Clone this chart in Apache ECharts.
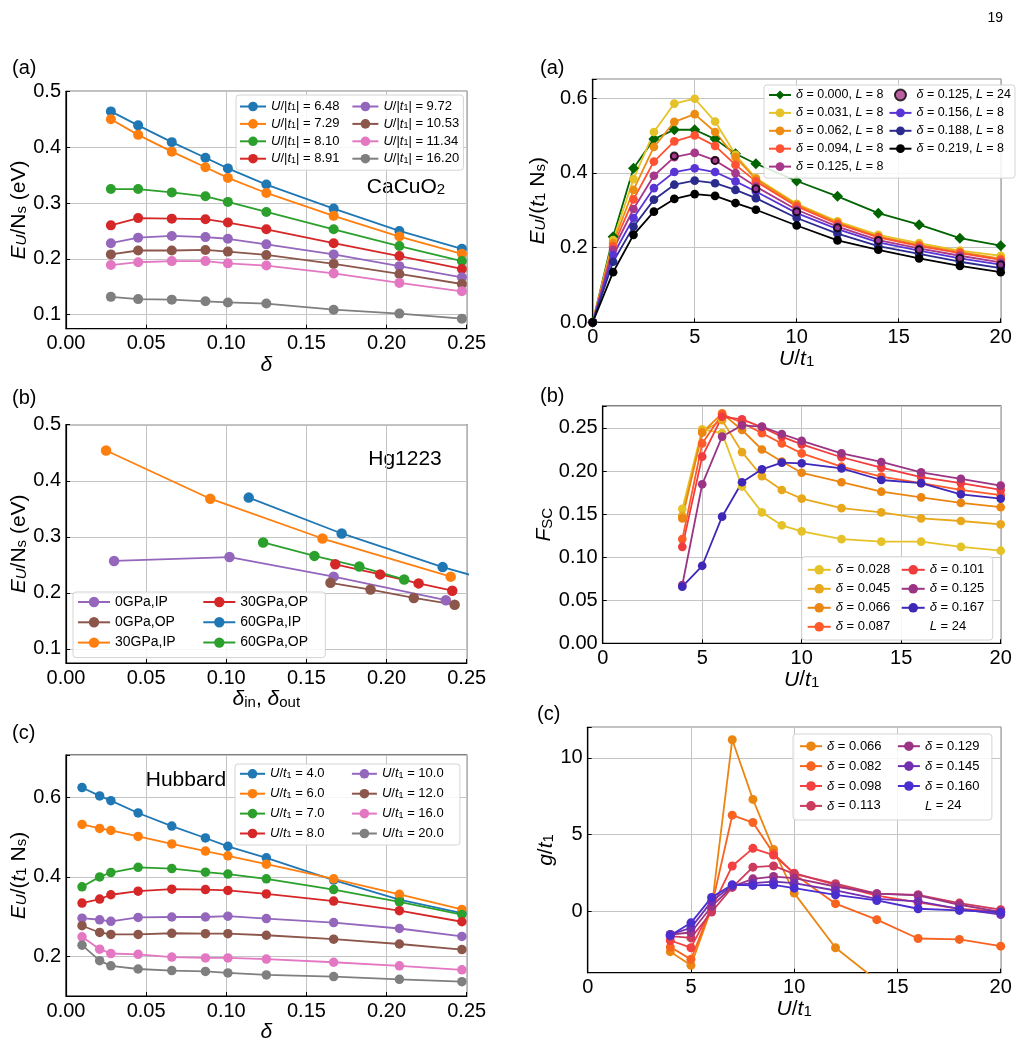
<!DOCTYPE html>
<html>
<head>
<meta charset="utf-8">
<script src="https://cdn.jsdelivr.net/npm/echarts@6/dist/echarts.min.js"></script>
<style>
html, body { margin: 0; background: #fff; }
#chart { width: 1024px; height: 1047px; }
</style>
</head>
<body>
<div id="chart"></div>
<script>
// 左(a) CaCuO2
var deltaA = [0.028, 0.045, 0.066, 0.087, 0.101, 0.125, 0.167, 0.208, 0.247];
var eU648 = [0.464, 0.439, 0.409, 0.381, 0.362, 0.333, 0.290, 0.250, 0.218];
var eU729 = [0.450, 0.422, 0.392, 0.364, 0.345, 0.318, 0.277, 0.240, 0.209];
var eU810 = [0.325, 0.325, 0.319, 0.312, 0.302, 0.284, 0.253, 0.223, 0.196];
var eU891 = [0.260, 0.273, 0.272, 0.271, 0.265, 0.253, 0.228, 0.205, 0.182];
var eU972 = [0.228, 0.238, 0.241, 0.239, 0.236, 0.226, 0.208, 0.187, 0.167];
var eU1053 = [0.208, 0.215, 0.215, 0.216, 0.213, 0.207, 0.191, 0.173, 0.155];
var eU1134 = [0.189, 0.194, 0.196, 0.196, 0.192, 0.188, 0.174, 0.157, 0.142];
var eU1620 = [0.132, 0.128, 0.127, 0.124, 0.122, 0.120, 0.109, 0.102, 0.093];
var namesA = ['U/|t1| = 6.48', 'U/|t1| = 7.29', 'U/|t1| = 8.10', 'U/|t1| = 8.91',
              'U/|t1| = 9.72', 'U/|t1| = 10.53', 'U/|t1| = 11.34', 'U/|t1| = 16.20'];

// 左(b) Hg1223  [delta, E]
var ip0 = [[0.030, 0.257], [0.102, 0.264], [0.167, 0.229], [0.237, 0.187]];
var op0 = [[0.165, 0.218], [0.190, 0.206], [0.217, 0.191], [0.2425, 0.179]];
var ip30 = [[0.025, 0.454], [0.090, 0.368], [0.160, 0.297], [0.240, 0.229]];
var op30 = [[0.168, 0.251], [0.196, 0.233], [0.220, 0.217], [0.241, 0.204]];
var ip60 = [[0.114, 0.370], [0.172, 0.306], [0.235, 0.246], [0.265, 0.222]];
var op60 = [[0.123, 0.290], [0.155, 0.266], [0.183, 0.247], [0.211, 0.224]];
var namesB = ['0GPa,IP', '0GPa,OP', '30GPa,IP', '30GPa,OP', '60GPa,IP', '60GPa,OP'];

// 左(c) Hubbard
var deltaC = [0.010, 0.021, 0.028, 0.045, 0.066, 0.087, 0.101, 0.125, 0.167, 0.208, 0.247];
var u4 = [0.625, 0.604, 0.592, 0.561, 0.528, 0.498, 0.477, 0.448, 0.392, 0.343, 0.309];
var u6 = [0.532, 0.522, 0.517, 0.502, 0.483, 0.465, 0.453, 0.432, 0.395, 0.356, 0.318];
var u7 = [0.375, 0.400, 0.411, 0.424, 0.421, 0.412, 0.407, 0.395, 0.368, 0.337, 0.305];
var u8 = [0.334, 0.344, 0.355, 0.364, 0.369, 0.368, 0.366, 0.357, 0.339, 0.315, 0.287];
var u10 = [0.296, 0.292, 0.288, 0.298, 0.299, 0.299, 0.301, 0.295, 0.285, 0.270, 0.250];
var u12 = [0.277, 0.260, 0.255, 0.255, 0.258, 0.257, 0.257, 0.253, 0.243, 0.231, 0.217];
var u16 = [0.249, 0.218, 0.207, 0.205, 0.198, 0.196, 0.196, 0.193, 0.185, 0.176, 0.166];
var u20 = [0.228, 0.189, 0.176, 0.168, 0.164, 0.162, 0.158, 0.153, 0.149, 0.142, 0.136];
var namesC = ['U/t1 = 4.0', 'U/t1 = 6.0', 'U/t1 = 7.0', 'U/t1 = 8.0',
              'U/t1 = 10.0', 'U/t1 = 12.0', 'U/t1 = 16.0', 'U/t1 = 20.0'];

// 右(a) E_U/(t1 Ns)
var uA = [0, 1, 2, 3, 4, 5, 6, 7, 8, 10, 12, 14, 16, 18, 20];
var d000 = [0, 0.229, 0.412, 0.490, 0.515, 0.515, 0.490, 0.451, 0.424, 0.378, 0.337, 0.292, 0.261, 0.225, 0.205];
var d031 = [0, 0.220, 0.383, 0.509, 0.585, 0.598, 0.537, 0.448, 0.386, 0.317, 0.270, 0.234, 0.212, 0.192, 0.178];
var d062 = [0, 0.212, 0.354, 0.469, 0.536, 0.557, 0.509, 0.442, 0.383, 0.314, 0.267, 0.229, 0.207, 0.188, 0.170];
var d094 = [0, 0.203, 0.329, 0.430, 0.484, 0.500, 0.472, 0.421, 0.377, 0.310, 0.263, 0.227, 0.204, 0.185, 0.167];
var d125 = [0, 0.194, 0.303, 0.392, 0.442, 0.453, 0.433, 0.399, 0.363, 0.301, 0.256, 0.220, 0.198, 0.178, 0.160];
var d156 = [0, 0.180, 0.279, 0.359, 0.402, 0.412, 0.402, 0.377, 0.350, 0.292, 0.249, 0.214, 0.192, 0.171, 0.154];
var d188 = [0, 0.162, 0.256, 0.328, 0.368, 0.379, 0.372, 0.354, 0.332, 0.279, 0.237, 0.204, 0.183, 0.162, 0.145];
var d219 = [0, 0.134, 0.234, 0.296, 0.330, 0.343, 0.338, 0.319, 0.301, 0.259, 0.219, 0.194, 0.171, 0.151, 0.134];
var uL24 = [4, 6, 8, 10, 12, 14, 16, 18, 20];
var d125L24 = [0.445, 0.433, 0.357, 0.296, 0.253, 0.219, 0.194, 0.171, 0.154];
var namesRA = ['δ = 0.000, L = 8', 'δ = 0.031, L = 8', 'δ = 0.062, L = 8', 'δ = 0.094, L = 8',
               'δ = 0.125, L = 8', 'δ = 0.125, L = 24', 'δ = 0.156, L = 8', 'δ = 0.188, L = 8', 'δ = 0.219, L = 8'];

// 右(b) F_SC
var uB = [4, 5, 6, 7, 8, 9, 10, 12, 14, 16, 18, 20];
var f028 = [0.156, 0.2485, 0.244, 0.182, 0.152, 0.137, 0.130, 0.121, 0.118, 0.118, 0.112, 0.1075];
var f045 = [0.148, 0.2457, 0.259, 0.222, 0.194, 0.178, 0.168, 0.157, 0.152, 0.145, 0.142, 0.138];
var f066 = [0.145, 0.2445, 0.267, 0.2477, 0.225, 0.211, 0.198, 0.187, 0.176, 0.1695, 0.163, 0.158];
var f087 = [0.121, 0.232, 0.266, 0.256, 0.244, 0.232, 0.2205, 0.205, 0.1935, 0.186, 0.178, 0.172];
var f101 = [0.112, 0.2167, 0.263, 0.260, 0.251, 0.240, 0.231, 0.216, 0.204, 0.193, 0.186, 0.178];
var f125 = [0.0677, 0.1846, 0.240, 0.253, 0.2515, 0.243, 0.235, 0.2205, 0.2105, 0.1985, 0.191, 0.183];
var f167 = [0.0657, 0.090, 0.147, 0.187, 0.202, 0.2097, 0.209, 0.203, 0.1896, 0.186, 0.173, 0.168];
var namesRB = ['δ = 0.028', 'δ = 0.045', 'δ = 0.066', 'δ = 0.087', 'δ = 0.101', 'δ = 0.125', 'δ = 0.167', 'L = 24'];

// 右(c) g/t1
var uC = [4, 5, 6, 7, 8, 9, 10, 12, 14, 16, 18, 20];
var g066 = [-2.63, -3.52, 0.2, 11.19, 7.30, 4.04, 1.19, -2.37, -4.5];
var g082 = [-2.33, -3.13, 0.3, 6.27, 5.79, 3.78, 2.44, 0.50, -0.54, -1.77, -1.83, -2.27];
var g098 = [-1.90, -2.37, 0.2, 2.96, 4.11, 3.67, 2.49, 1.73, 1.02, 0.58, 0.16, 0.0];
var g113 = [-1.62, -1.73, -0.04, 1.56, 2.88, 2.96, 2.44, 1.80, 1.15, 1.08, 0.54, 0.11];
var g129 = [-1.51, -1.38, 0.32, 1.62, 2.12, 2.27, 2.16, 1.62, 1.15, 1.04, 0.43, -0.04];
var g145 = [-1.51, -1.08, 0.65, 1.69, 1.84, 1.94, 1.84, 1.36, 0.82, 0.65, 0.16, -0.21];
var g160 = [-1.58, -0.75, 0.91, 1.73, 1.69, 1.73, 1.51, 1.08, 0.71, 0.17, 0.06, -0.06];
// 末尾の空白は(b)と名前が重ならないため
var namesRC = ['δ = 0.066 ', 'δ = 0.082 ', 'δ = 0.098 ', 'δ = 0.113 ', 'δ = 0.129 ', 'δ = 0.145 ', 'δ = 0.160 ', 'L = 24 '];

var tab10 = ['#1f77b4', '#ff7f0e', '#2ca02c', '#d62728', '#9467bd', '#8c564b', '#e377c2', '#7f7f7f'];
var colRA = ['#006400', '#E6C229', '#EC8D12', '#FF5233', '#A8388A', '#A8388A', '#5A35D6', '#2B2B8E', '#000000'];
var colRB = ['#E6C229', '#E9A81C', '#EC8612', '#FF5A2A', '#F03C3C', '#9C3486', '#3F28B8'];
var colRC = ['#EC8612', '#F86420', '#F44040', '#CC3A5E', '#9C3486', '#7230B0', '#4A2ED0'];

var F = 'Liberation Sans, Arial, Helvetica, sans-serif';

function richFor(fs, lh) {
    var r = {
        i: { fontStyle: 'italic', fontSize: fs, fontFamily: F, color: '#000' },
        n: { fontSize: fs, fontFamily: F, color: '#000' },
        s: { fontSize: Math.round(fs * 0.7), verticalAlign: 'bottom', fontFamily: F, color: '#000' },
        si: { fontSize: Math.round(fs * 0.7), fontStyle: 'italic', verticalAlign: 'bottom', fontFamily: F, color: '#000' }
    };
    if (lh) {
        for (var k in r) { r[k].lineHeight = lh; }
    }
    return r;
}

function toRich(name) {
    return name.trim()
        .replace('U/|t1|', '{i|U}/|{i|t}{s|1}|')
        .replace('U/t1', '{i|U}/{i|t}{s|1}')
        .replace(/δ/g, '{i|δ}')
        .replace('L =', '{i|L} =');
}

function line(name, g, xs, ys, color, size, sym) {
    return {
        type: 'line', name: name, xAxisIndex: g, yAxisIndex: g,
        data: ys.map(function (y, i) { return [xs[i], y]; }),
        symbol: sym || 'circle', symbolSize: size,
        lineStyle: { color: color, width: 1.8 },
        itemStyle: { color: color },
        clip: true
    };
}

function pairs(name, g, d, color, size) {
    return {
        type: 'line', name: name, xAxisIndex: g, yAxisIndex: g, data: d,
        symbol: 'circle', symbolSize: size,
        lineStyle: { color: color, width: 1.8 }, itemStyle: { color: color }, clip: true
    };
}

function dummy(name, g) {
    return { type: 'line', name: name, xAxisIndex: g, yAxisIndex: g, data: [], symbol: 'none', lineStyle: { opacity: 0 } };
}

function keep(step, dec) {
    return function (v) {
        var k = v / step;
        return Math.abs(k - Math.round(k)) < 1e-6 ? v.toFixed(dec) : '';
    };
}

function xAx(g, max, step, dec, name, gap) {
    return {
        type: 'value', gridIndex: g, min: 0, max: max, interval: step,
        name: name, nameLocation: 'middle', nameGap: gap,
        nameTextStyle: { fontSize: 21, fontFamily: F, color: '#000', rich: richFor(21) },
        axisLine: { show: true, onZero: false, lineStyle: { color: '#000', width: 1.2 } },
        axisTick: { show: true, inside: true, length: 4, lineStyle: { color: '#000' } },
        axisLabel: { fontSize: 20, fontFamily: F, color: '#000', margin: 5, formatter: keep(step, dec) },
        splitLine: { show: true, lineStyle: { color: '#c4c4c4', width: 1 } }
    };
}

function yAx(g, min, max, step, dec, split, name, gap) {
    var a = {
        type: 'value', gridIndex: g, min: min, max: max,
        name: name, nameLocation: 'middle', nameGap: gap, nameRotate: 90,
        nameTextStyle: { fontSize: 21, fontFamily: F, color: '#000', rich: richFor(21) },
        axisLine: { show: true, onZero: false, lineStyle: { color: '#000', width: 1.2 } },
        axisTick: { show: true, inside: true, length: 4, lineStyle: { color: '#000' } },
        axisLabel: { fontSize: 20, fontFamily: F, color: '#000', margin: 5, formatter: keep(step, dec) },
        splitLine: { show: true, lineStyle: { color: '#c4c4c4', width: 1 } }
    };
    if (split) { a.splitNumber = split; } else { a.interval = step; }
    return a;
}

function legend(names, left, top, o) {
    return {
        data: names.map(function (n) {
            if (n.trim() === 'L = 24') {
                return { name: n, itemStyle: { opacity: 0 }, lineStyle: { opacity: 0 } };
            }
            return n;
        }),
        orient: 'vertical', left: left, top: top, height: o.h,
        itemWidth: o.iw, itemHeight: o.ih, itemGap: o.gap, padding: o.pad,
        selectedMode: false,
        backgroundColor: 'rgba(255,255,255,0.85)', borderColor: '#d4d4d4', borderWidth: 1, borderRadius: 3,
        formatter: toRich,
        textStyle: { fontSize: o.fs, lineHeight: o.ih, fontFamily: F, color: '#000', width: o.tw, rich: richFor(o.fs, o.ih) }
    };
}

var series = [];
[eU648, eU729, eU810, eU891, eU972, eU1053, eU1134, eU1620].forEach(function (ys, i) {
    series.push(line(namesA[i], 0, deltaA, ys, tab10[i], 10));
});
var colB = ['#9467bd', '#8c564b', '#ff7f0e', '#d62728', '#1f77b4', '#2ca02c'];
[ip0, op0, ip30, op30, ip60, op60].forEach(function (d, i) {
    series.push(pairs(namesB[i], 1, d, colB[i], 10.5));
});
[u4, u6, u7, u8, u10, u12, u16, u20].forEach(function (ys, i) {
    series.push(line(namesC[i], 2, deltaC, ys, tab10[i], 9.5));
});
series.push(line(namesRA[0], 3, uA, d000, colRA[0], 11, 'diamond'));
[d031, d062, d094, d125].forEach(function (ys, i) {
    series.push(line(namesRA[i + 1], 3, uA, ys, colRA[i + 1], 8.7));
});
series.push({
    type: 'scatter', name: namesRA[5], xAxisIndex: 3, yAxisIndex: 3,
    data: d125L24.map(function (y, i) { return [uL24[i], y]; }),
    symbol: 'circle', symbolSize: 7,
    itemStyle: { color: '#A8388A', borderColor: '#000', borderWidth: 2 }, z: 5
});
[d156, d188, d219].forEach(function (ys, i) {
    series.push(line(namesRA[i + 6], 3, uA, ys, colRA[i + 6], 8.7));
});
[f028, f045, f066, f087, f101, f125, f167].forEach(function (ys, i) {
    series.push(line(namesRB[i], 4, uB, ys, colRB[i], 8.7));
});
series.push(dummy(namesRB[7], 4));
[g066, g082, g098, g113, g129, g145, g160].forEach(function (ys, i) {
    series.push(line(namesRC[i], 5, uC, ys, colRC[i], 9));
});
series.push(dummy(namesRC[7], 5));

var eNs = '{i|E}{si|U}/{n|N}{s|s} (eV)';
var eTN = '{i|E}{si|U}/({i|t}{s|1}{n| N}{s|s})';
var uT = '{i|U}/{i|t}{s|1}';

var option = {
    animation: false,
    backgroundColor: '#fff',
    textStyle: { fontFamily: F },
    grid: [
        { left: 66, top: 91.3, width: 400.7, height: 237.4 },
        { left: 66, top: 424.7, width: 400.7, height: 238.3 },
        { left: 66, top: 755, width: 400.7, height: 241 },
        { left: 592.7, top: 79.3, width: 408, height: 243 },
        { left: 602.7, top: 406, width: 398, height: 237.3 },
        { left: 587.7, top: 727.3, width: 413, height: 245.4 }
    ].map(function (g) {
        g.show = true; g.borderColor = '#000'; g.borderWidth = 1.2; g.containLabel = false;
        return g;
    }),
    xAxis: [
        xAx(0, 0.25, 0.05, 2, '{i|δ}', 20),
        xAx(1, 0.25, 0.05, 2, '{i|δ}{s|in}{n|, }{i|δ}{s|out}', 24),
        xAx(2, 0.25, 0.05, 2, '{i|δ}', 20),
        xAx(3, 20, 5, 0, uT, 24),
        xAx(4, 20, 5, 0, uT, 24),
        xAx(5, 20, 5, 0, uT, 24)
    ],
    yAxis: [
        yAx(0, 0.075, 0.5, 0.1, 1, 5, eNs, 36),
        yAx(1, 0.075, 0.5, 0.1, 1, 5, eNs, 36),
        yAx(2, 0.1, 0.707, 0.2, 1, 3, eTN, 36),
        yAx(3, 0, 0.65, 0.2, 1, 0, eTN, 44),
        yAx(4, 0, 0.2755, 0.05, 2, 0, '{i|F}{s|SC}', 44),
        yAx(5, -4, 12, 5, 0, 3, '{i|g}/{i|t}{s|1}', 24)
    ],
    legend: [
        legend(namesA, 236, 95, { h: 74, iw: 26, ih: 12, gap: 4.4, pad: [5, 4, 5, 3], fs: 13, tw: 76 }),
        legend(namesB, 73, 592, { h: 66, iw: 32, ih: 13, gap: 6.3, pad: [3, 4, 8, 4], fs: 14, tw: 81 }),
        legend(namesC, 235, 764, { h: 82, iw: 25, ih: 12, gap: 6.9, pad: [3.3, 4, 5, 4], fs: 13, tw: 74 }),
        legend(namesRA, 764, 85, { h: 87, iw: 22, ih: 11, gap: 4.9, pad: [3.5, 4, 5, 4], fs: 12.5, tw: 80 }),
        legend(namesRB, 801.7, 556.7, { h: 81.6, iw: 23, ih: 12, gap: 6, pad: [6.6, 4, 6.7, 5], fs: 13, tw: 59 }),
        legend(namesRC, 793, 734, { h: 85, iw: 22, ih: 12, gap: 6.9, pad: [5.7, 4, 7.6, 6], fs: 13, tw: 63 })
    ],
    graphic: [
        { type: 'text', style: { text: '19', x: 1003, y: 18, align: 'right', verticalAlign: 'middle', fontSize: 14, fontFamily: F, fill: '#000' } },
        { type: 'text', style: { text: '(a)', x: 12, y: 68, verticalAlign: 'middle', fontSize: 20, fontFamily: F, fill: '#000' } },
        { type: 'text', style: { text: '(b)', x: 12, y: 398, verticalAlign: 'middle', fontSize: 20, fontFamily: F, fill: '#000' } },
        { type: 'text', style: { text: '(c)', x: 12, y: 733, verticalAlign: 'middle', fontSize: 20, fontFamily: F, fill: '#000' } },
        { type: 'text', style: { text: '(a)', x: 540, y: 68, verticalAlign: 'middle', fontSize: 20, fontFamily: F, fill: '#000' } },
        { type: 'text', style: { text: '(b)', x: 540, y: 396, verticalAlign: 'middle', fontSize: 20, fontFamily: F, fill: '#000' } },
        { type: 'text', style: { text: '(c)', x: 537, y: 714, verticalAlign: 'middle', fontSize: 20, fontFamily: F, fill: '#000' } },
        { type: 'text', style: { text: '{n|CaCuO}{s|2}', x: 406, y: 187, align: 'center', verticalAlign: 'middle', rich: richFor(21), fontSize: 21, fontFamily: F, fill: '#000' } },
        { type: 'text', style: { text: 'Hg1223', x: 405, y: 459, align: 'center', verticalAlign: 'middle', fontSize: 21, fontFamily: F, fill: '#000' } },
        { type: 'text', style: { text: 'Hubbard', x: 186, y: 780, align: 'center', verticalAlign: 'middle', fontSize: 21, fontFamily: F, fill: '#000' } }
    ],
    series: series
};

var chart = echarts.init(document.getElementById('chart'));
chart.setOption(option);
</script>
</body>
</html>
